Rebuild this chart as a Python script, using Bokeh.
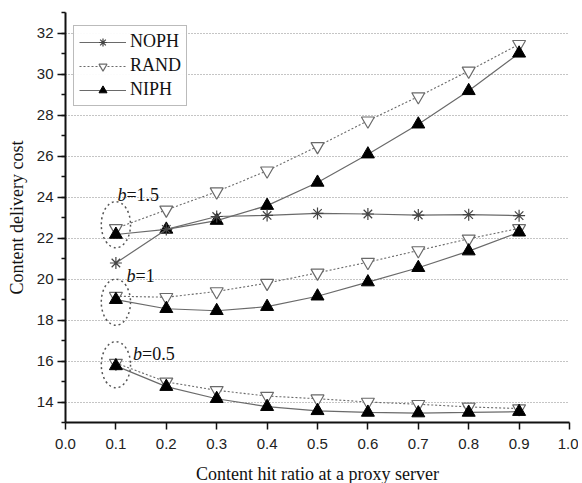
from bokeh.plotting import figure
from bokeh.models import (Legend, LegendItem, FixedTicker, SingleIntervalTicker,
                          Label, PrintfTickFormatter)
from bokeh.embed import file_html
from bokeh.resources import INLINE

# ---- data ----
hit_ratio = [0.1, 0.2, 0.3, 0.4, 0.5, 0.6, 0.7, 0.8, 0.9]
noph = [20.78, 22.42, 23.05, 23.1, 23.2, 23.17, 23.12, 23.14, 23.09]
rand_b15 = [22.47, 23.37, 24.26, 25.28, 26.47, 27.72, 28.9, 30.15, 31.45]
niph_b15 = [22.17, 22.42, 22.85, 23.58, 24.71, 26.09, 27.55, 29.18, 31.01]
rand_b1 = [19.16, 19.11, 19.39, 19.8, 20.3, 20.82, 21.39, 21.96, 22.47]
niph_b1 = [18.99, 18.55, 18.45, 18.65, 19.16, 19.85, 20.55, 21.36, 22.28]
rand_b05 = [15.9, 14.98, 14.57, 14.29, 14.16, 14.0, 13.89, 13.76, 13.68]
niph_b05 = [15.76, 14.75, 14.16, 13.77, 13.57, 13.49, 13.46, 13.49, 13.53]
x_ticks = [0.0, 0.1, 0.2, 0.3, 0.4, 0.5, 0.6, 0.7, 0.8, 0.9, 1.0]
b_labels = ["=1.5", "=1", "=0.5"]

GRAY = "#6a6a6a"
SERIF = "Liberation Serif"
SANS = "Liberation Sans"

p = figure(frame_width=504, frame_height=410, x_range=(0, 1), y_range=(13, 33),
           output_backend="svg", toolbar_location=None,
           min_border_left=65, min_border_right=9, min_border_top=12,
           min_border_bottom=58)
p.outline_line_color = None
p.xgrid.grid_line_color = None
p.ygrid.grid_line_color = "#8a8a8a"
p.ygrid.grid_line_dash = "1 2"
p.ygrid.grid_line_width = 1

p.xaxis.ticker = FixedTicker(ticks=x_ticks)
p.xaxis.formatter = PrintfTickFormatter(format="%.1f")
p.yaxis.ticker = SingleIntervalTicker(interval=2, num_minor_ticks=2)

for ax in (p.xaxis[0], p.yaxis[0]):
    ax.axis_line_width = 2
    ax.axis_line_color = "#111111"
    ax.major_tick_line_color = "#111111"
    ax.minor_tick_line_color = "#111111"
    ax.major_tick_line_width = 1.5
    ax.minor_tick_line_width = 1.5
    ax.major_tick_in = 0
    ax.minor_tick_in = 0
    ax.major_label_text_font = SANS
    ax.major_label_text_font_size = "15px"
    ax.major_label_text_color = "#222222"
    ax.axis_label_text_font = SERIF
    ax.axis_label_text_font_style = "normal"
    ax.axis_label_text_font_size = "18px"
    ax.axis_label_text_color = "#111111"

p.xaxis.major_tick_out = 7
p.xaxis.minor_tick_out = 0
p.xaxis.major_label_standoff = 9
p.xaxis.axis_label_standoff = 12
p.xaxis.axis_label = "Content hit ratio at a proxy server"

p.yaxis.major_tick_out = 8
p.yaxis.minor_tick_out = 4
p.yaxis.major_label_standoff = 4
p.yaxis.axis_label_standoff = 7
p.yaxis.axis_label = "Content delivery cost"

# series
groups = [(rand_b15, niph_b15), (rand_b1, niph_b1), (rand_b05, niph_b05)]
legend_r = {}
for gi, (r, n) in enumerate(groups):
    lr = p.line(hit_ratio, r, line_color=GRAY, line_width=1.1, line_dash="2 2")
    sr = p.scatter(hit_ratio, r, marker="inverted_triangle", size=13,
                   fill_color="white", line_color=GRAY, line_width=1.2)
    ln = p.line(hit_ratio, n, line_color=GRAY, line_width=1.2)
    sn = p.scatter(hit_ratio, n, marker="triangle", size=13,
                   fill_color="black", line_color="black")
    if gi == 0:
        legend_r["RAND"] = [lr, sr]
        legend_r["NIPH"] = [ln, sn]

lo = p.line(hit_ratio, noph, line_color=GRAY, line_width=1.2)
so = p.scatter(hit_ratio, noph, marker="asterisk", size=12,
               line_color="#444444", line_width=1.2)
legend_r["NOPH"] = [lo, so]

# dotted ellipses around the first points (annotation positions)
ell_x = [0.1, 0.1, 0.1]
ell_y = [22.65, 18.87, 15.82]
p.ellipse(x=ell_x, y=ell_y, width=0.058, height=2.25, fill_color=None,
          line_color="#555555", line_dash="2 3", line_width=1.5)

# b= labels
lab_pos = [(0.103, 24.11), (0.121, 20.17), (0.134, 16.36)]
for (lx, ly), txt in zip(lab_pos, b_labels):
    p.add_layout(Label(x=lx, y=ly, text="b", text_font=SERIF,
                       text_font_style="italic", text_font_size="18px",
                       text_baseline="alphabetic", text_color="#111111"))
    p.add_layout(Label(x=lx, y=ly, x_offset=9, text=txt, text_font=SERIF,
                       text_font_size="18px", text_baseline="alphabetic",
                       text_color="#111111"))

legend = Legend(items=[LegendItem(label=k, renderers=legend_r[k])
                       for k in ["NOPH", "RAND", "NIPH"]],
                location=(8, 316))
legend.label_text_font = SERIF
legend.label_text_font_size = "18px"
legend.label_text_line_height = 1.0
legend.label_text_color = "#111111"
legend.glyph_width = 47
legend.glyph_height = 20
legend.label_height = 20
legend.label_standoff = 4
legend.spacing = 3
legend.padding = 5
legend.margin = 0
legend.border_line_color = "#777777"
legend.border_line_width = 1
p.add_layout(legend)

open("out.html", "w").write(file_html(p, INLINE))
